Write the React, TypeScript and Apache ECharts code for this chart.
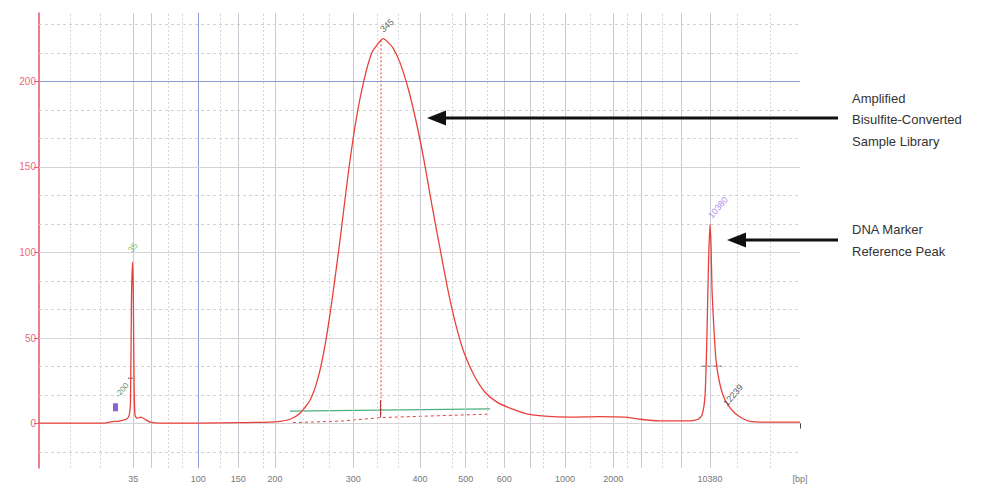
import React, { useEffect, useRef } from "react";
import * as echarts from "echarts";

// Ladder (HS DNA) sizes and their migration times (s)
const ladderSizes = [35, 50, 100, 150, 200, 300, 400, 500, 600, 700, 1000, 2000, 3000, 7000, 10380];
const ladderTimes = [49.9, 51.85, 56.75, 60.95, 64.81, 73.04, 80.05, 84.86, 88.92, 91.62, 95.3, 100.37, 103.29, 107.56, 110.54];
const labeledSizes = [35, 100, 150, 200, 300, 400, 500, 600, 1000, 2000, 10380];
const axisEndTime = 120;
const axisEndLabel = "[bp]";
const minorGridTimes = [43.26, 46.41, 53.56, 55.03, 59.03, 63.55, 67.75, 70.49, 75.53, 77.74, 83.42, 87.1, 92.99, 97.93, 101.82, 105.49, 113.38, 116.85];

const yLabelValues = [0, 50, 100, 150, 200];
const yMinorGrid = [-16.67, 16.67, 33.33, 66.67, 83.33, 116.67, 133.33, 166.67, 183.33, 216.67, 233.33];

// Electropherogram trace: migration time (s) vs fluorescence (FU)
const traceTime = [40.0, 44.3, 46.94, 47.46, 47.88, 48.3, 48.73, 49.15, 49.46, 49.62, 49.72, 49.83, 49.91, 49.99, 50.09, 50.3, 50.72, 51.14, 51.67, 52.72, 56.93, 61.13, 64.28, 65.34, 66.39, 67.44, 68.49, 69.33, 70.07, 70.8, 71.64, 72.48, 73.32, 74.16, 75.01, 75.85, 76.16, 76.48, 77.22, 77.95, 78.8, 79.63, 80.47, 81.31, 82.15, 82.99, 83.83, 84.67, 85.73, 86.89, 88.15, 89.51, 91.09, 93.19, 95.82, 98.97, 101.6, 103.18, 105.28, 108.44, 109.28, 109.7, 110.02, 110.23, 110.39, 110.54, 110.65, 110.75, 110.96, 111.17, 111.49, 111.91, 112.44, 113.17, 113.91, 114.75, 116.85, 120];
const traceFU = [0.2, 0.2, 0.2, 0.8, 1.3, 1.3, 1.9, 2.5, 4.3, 13.6, 72, 94.3, 78, 25, 4.9, 3.1, 3.7, 2.5, 0.8, 0.2, 0.2, 0.5, 0.8, 1.3, 2.5, 6, 13.6, 26.5, 45.8, 72, 107, 145, 177, 200.6, 217, 223.5, 225, 224, 219.5, 211, 196, 177, 154, 127.5, 102.5, 78, 57.5, 41.7, 28.2, 18.3, 12.5, 9, 6, 4.3, 3.7, 4, 3.7, 2.5, 1.6, 1.6, 2.5, 4.9, 16.6, 54.5, 95.4, 116.4, 104, 78, 54.5, 37, 25.3, 16.5, 10.7, 6, 3.1, 1.3, 0.8, 0.8];

// Region / peak markers
const regionLine = [[66.39, 7.2], [87.41, 8.6]];
const regionBaseline = [[66.7, 0.5], [72.0, 1.5], [76.0, 3.5], [87.4, 5.5]];
const apexDrop = [[75.95, 224], [75.95, 4]];
const apexStem = [[75.9, 13.5], [75.9, 3.5]];
const upperMarkerBar = [[109.6, 33.5], [111.8, 33.5]];
const lowerMarkerBar = [[49.36, 26.5], [49.99, 26.5]];

// Peak annotations: [time, FU, text, color, rotate, fontSize]
const peakLabelTime = [49.88, 76.58, 111.38, 112.96, 48.73];
const peakLabelFU = [102.9, 232.7, 126.3, 16.6, 19.5];
const peakLabelText = ["35", "345", "10380", "12239", "-200"];
const peakLabelColor = ["#4caf50", "#2e3b2e", "#9b6ee8", "#333333", "#3b6b3b"];
const peakLabelRotate = [50, 42, 50, 50, 50];

const annotationLines1 = ["Amplified", "Bisulfite-Converted", "Sample Library"];
const annotationLines2 = ["DNA Marker", "Reference Peak"];

function sizeForTime(t: number): string {
  if (Math.abs(t - axisEndTime) < 0.01) return axisEndLabel;
  for (let i = 0; i < ladderTimes.length; i++) {
    if (Math.abs(ladderTimes[i] - t) < 0.01) return String(ladderSizes[i]);
  }
  return "";
}

export default function App() {
  const ref = useRef<HTMLDivElement>(null);
  useEffect(() => {
    if (!ref.current) return;
    const chart = echarts.init(ref.current, undefined, { renderer: "svg" });
    const labeledTimes = labeledSizes.map((s) => ladderTimes[ladderSizes.indexOf(s)]);
    const traceRed = "#e8413c";

    const vGrid: any[] = [];
    minorGridTimes.forEach((t) =>
      vGrid.push({ xAxis: t, lineStyle: { color: "#d6d6d6", type: [2, 2], width: 1 } })
    );
    ladderTimes.forEach((t, i) =>
      vGrid.push({
        xAxis: t,
        lineStyle: {
          color: ladderSizes[i] === 100 ? "#8d9bd0" : "#c8cad4",
          type: "solid",
          width: 1,
        },
      })
    );
    const hGrid: any[] = [];
    yMinorGrid.forEach((v) =>
      hGrid.push({ yAxis: v, lineStyle: { color: "#d2d2d2", type: [3, 3], width: 1 } })
    );
    yLabelValues.forEach((v) =>
      hGrid.push({
        yAxis: v,
        lineStyle: { color: v === 200 ? "#8d9bd0" : "#d4d4d8", type: "solid", width: 1 },
      })
    );

    const textFont = '13px "Liberation Sans", Arial, sans-serif';
    const graphics: any[] = [];
    annotationLines1.forEach((s, i) =>
      graphics.push({
        type: "text",
        x: 852,
        y: 98 + i * 21.5,
        style: { text: s, font: textFont, fill: "#333", textVerticalAlign: "middle", verticalAlign: "middle" },
        z: 100,
      })
    );
    annotationLines2.forEach((s, i) =>
      graphics.push({
        type: "text",
        x: 852,
        y: 229 + i * 22,
        style: { text: s, font: textFont, fill: "#333", textVerticalAlign: "middle", verticalAlign: "middle" },
        z: 100,
      })
    );
    graphics.push(
      { type: "line", shape: { x1: 440, y1: 118, x2: 838, y2: 118 }, style: { stroke: "#111", lineWidth: 3 }, z: 100 },
      { type: "polygon", shape: { points: [[427, 118], [446, 110.5], [446, 125.5]] }, style: { fill: "#111" }, z: 100 },
      { type: "line", shape: { x1: 740, y1: 240, x2: 838, y2: 240 }, style: { stroke: "#111", lineWidth: 3 }, z: 100 },
      { type: "polygon", shape: { points: [[727, 240], [746, 232.5], [746, 247.5]] }, style: { fill: "#111" }, z: 100 }
    );

    const option: any = {
      animation: false,
      backgroundColor: "#ffffff",
      grid: { left: 39, right: 193, top: 13, bottom: 18, containLabel: false },
      xAxis: {
        type: "value",
        min: 40,
        max: axisEndTime,
        axisLine: { show: true, lineStyle: { color: "#555", width: 1 } },
        axisTick: {
          show: true,
          customValues: [...ladderTimes, axisEndTime],
          length: 5,
          lineStyle: { color: "#444" },
        },
        axisLabel: {
          show: true,
          customValues: [...labeledTimes, axisEndTime],
          formatter: (v: number) => sizeForTime(v),
          color: "#777",
          fontSize: 9,
          fontFamily: '"Liberation Sans", Arial, sans-serif',
          margin: 6,
        },
        splitLine: { show: false },
      },
      yAxis: {
        type: "value",
        min: -26,
        max: 240,
        axisLine: { show: true, lineStyle: { color: "#e0566c", width: 1.5 } },
        axisTick: { show: true, customValues: yLabelValues, length: 5, lineStyle: { color: "#e0566c" } },
        axisLabel: {
          show: true,
          customValues: yLabelValues,
          color: "#e86a7a",
          fontSize: 10,
          fontFamily: '"Liberation Sans", Arial, sans-serif',
          margin: 3,
        },
        splitLine: { show: false },
      },
      graphic: graphics,
      series: [
        {
          name: "grid",
          type: "line",
          data: [],
          z: 0,
          silent: true,
          markLine: {
            silent: true,
            symbol: ["none", "none"],
            label: { show: false },
            animation: false,
            data: [...vGrid, ...hGrid],
          },
        },
        {
          name: "regionBaseline",
          type: "line",
          data: regionBaseline,
          symbol: "none",
          z: 2,
          lineStyle: { color: traceRed, width: 1, type: [3, 3] },
        },
        {
          name: "regionLine",
          type: "line",
          data: regionLine,
          symbol: "none",
          z: 3,
          lineStyle: { color: "#4caf7d", width: 1.3 },
        },
        {
          name: "apexDrop",
          type: "line",
          data: apexDrop,
          symbol: "none",
          z: 2,
          lineStyle: { color: traceRed, width: 1, type: [2, 2] },
        },
        {
          name: "apexStem",
          type: "line",
          data: apexStem,
          symbol: "none",
          z: 3,
          lineStyle: { color: "#a83030", width: 1 },
        },
        {
          name: "upperMarkerBar",
          type: "line",
          data: upperMarkerBar,
          symbol: "none",
          z: 3,
          lineStyle: { color: "#666", width: 1 },
        },
        {
          name: "lowerMarkerBar",
          type: "line",
          data: lowerMarkerBar,
          symbol: "none",
          z: 3,
          lineStyle: { color: "#666", width: 1 },
        },
        {
          name: "trace",
          type: "line",
          data: traceTime.map((t, i) => [t, traceFU[i]]),
          symbol: "none",
          smooth: 0.2,
          z: 5,
          lineStyle: { color: traceRed, width: 1.3 },
        },
        {
          name: "lowerMarkerFlag",
          type: "scatter",
          data: [[48.04, 9.5]],
          symbol: "rect",
          symbolSize: [5, 8],
          itemStyle: { color: "#6a3fc0" },
          z: 6,
        },
        {
          name: "peakLabels",
          type: "scatter",
          symbolSize: 0,
          z: 7,
          data: peakLabelTime.map((t, i) => ({
            value: [t, peakLabelFU[i]],
            label: {
              show: true,
              position: "inside",
              formatter: peakLabelText[i],
              color: peakLabelColor[i],
              rotate: peakLabelRotate[i],
              fontSize: i === 4 ? 8 : 9,
              fontFamily: '"Liberation Sans", Arial, sans-serif',
            },
          })),
        },
      ],
    };
    chart.setOption(option);
    return () => chart.dispose();
  }, []);
  return (
    <div
      ref={ref}
      style={{ position: "fixed", left: 0, top: 0, width: 993, height: 486, background: "#fff" }}
    />
  );
}
